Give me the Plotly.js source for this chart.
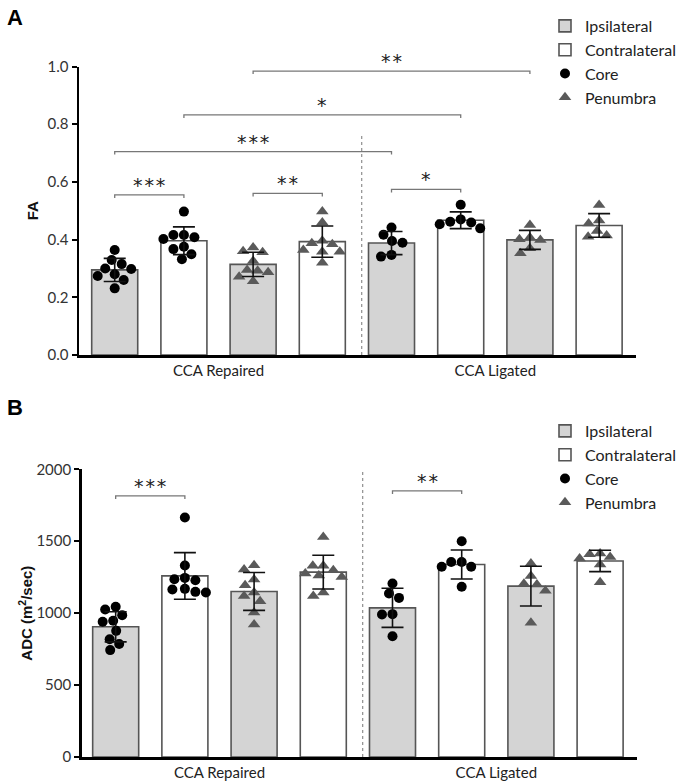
<!DOCTYPE html>
<html><head><meta charset="utf-8">
<script src="https://cdn.plot.ly/plotly-3.0.1.min.js"></script>
<style>body{margin:0;background:#fff}#chart{width:683px;height:782px}</style>
</head><body><div id="chart"></div>
<script>
// ---------- data ----------
const groupLabels = ['CCA Repaired', 'CCA Ligated'];
const sideNames = ['Ipsilateral', 'Contralateral'];
const regionNames = ['Core', 'Penumbra'];
// bar order: Repaired Core Ipsi, Repaired Core Contra, Repaired Pen Ipsi, Repaired Pen Contra, Ligated Core Ipsi, ...
const faMean = [0.295, 0.396, 0.314, 0.393, 0.388, 0.467, 0.399, 0.449];
const faSD   = [0.040, 0.048, 0.042, 0.054, 0.040, 0.029, 0.033, 0.041];
const faPoints = [
  [0.364,0.329,0.315,0.298,0.300,0.274,0.280,0.260,0.231],
  [0.497,0.416,0.408,0.402,0.416,0.367,0.375,0.332,0.349],
  [0.373,0.356,0.360,0.326,0.295,0.287,0.292,0.271,0.256],
  [0.497,0.459,0.387,0.384,0.396,0.358,0.358,0.364,0.320],
  [0.442,0.417,0.395,0.389,0.341,0.347],
  [0.521,0.470,0.459,0.439,0.453,0.462],
  [0.451,0.401,0.399,0.407,0.370,0.353],
  [0.520,0.466,0.456,0.430,0.410,0.414]
];
const adcMean = [905, 1259, 1151, 1285, 1037, 1338, 1188, 1363];
const adcSD   = [105, 162, 132, 117, 136, 101, 138, 74];
const adcPoints = [
  [1044,1025,986,940,947,877,819,785,743],
  [1665,1331,1229,1245,1236,1164,1144,1148,1169],
  [1333,1303,1234,1194,1120,1144,1083,1005,921],
  [1530,1329,1329,1299,1275,1262,1252,1120,1144],
  [1206,1137,1106,991,993,840],
  [1500,1356,1322,1322,1356,1183],
  [1345,1259,1199,1204,1155,933],
  [1410,1380,1338,1391,1415,1215]
];
// significance brackets: [from bar, to bar, height, label]
const faSig = [[0,1,0.555,'***'],[2,3,0.56,'**'],[0,4,0.705,'***'],[4,5,0.574,'*'],[1,5,0.832,'*'],[2,6,0.984,'**']];
const adcSig = [[0,1,1815,'***'],[4,5,1850,'**']];

// ---------- layout geometry ----------
const W = 683, H = 782;
const panels = [
  {key:'', letter:'A', mean:faMean, sd:faSD, pts:faPoints, sig:faSig, xpx:[79,636], ypx:[66.5,355],
   xr:[-0.516,7.533], yr:[0,1], dtick:0.2, fmt:'.1f', title:'FA', standoff:6, sepTop:0.763, legend:'legend',
   letterY:18},
  {key:'2', letter:'B', mean:adcMean, sd:adcSD, pts:adcPoints, sig:adcSig, xpx:[81.7,637], ypx:[469.3,757],
   xr:[-0.491,7.533], yr:[0,2000], dtick:500, fmt:'d', title:'ADC (m<sup>2</sup>/sec)', standoff:0, sepTop:2007, legend:'legend2',
   letterY:407}
];
const FONT = 'Lato, "Open Sans", sans-serif';
const STARFONT = '"DejaVu Sans", sans-serif';
const barIdx = [0,1,2,3,4,5,6,7];

function swarm(vals, pyu, pxu, D) {
  const order = vals.map((v,i)=>i).sort((a,b)=>vals[b]-vals[a]);
  const placed = []; const off = new Array(vals.length).fill(0);
  for (const i of order) {
    const y = vals[i]*pyu;
    for (let k=0;k<400;k++) {
      const c = (k%2===0?1:-1)*Math.ceil(k/2)*0.5;
      let ok = true;
      for (const p of placed) { const dx=c-p.x, dy=y-p.y; if (dx*dx+dy*dy < D*D) { ok=false; break; } }
      if (ok) { placed.push({x:c,y:y}); off[i]=c/pxu; break; }
    }
  }
  return off;
}

const traces = [];
const layout = {
  width: W, height: H, margin:{l:0,r:0,t:0,b:0}, paper_bgcolor:'#fff', plot_bgcolor:'rgba(0,0,0,0)',
  barmode:'overlay', showlegend:true, font:{family:FONT, size:15, color:'#222'},
  shapes:[], annotations:[]
};

panels.forEach((P, pi) => {
  const xa = 'x'+P.key, ya = 'y'+P.key;
  const pxu = (P.xpx[1]-P.xpx[0])/(P.xr[1]-P.xr[0]);
  const pyu = (P.ypx[1]-P.ypx[0])/(P.yr[1]-P.yr[0]);
  // bars
  [0,1].forEach(s => {
    const ids = barIdx.filter(i => i%2===s);
    traces.push({type:'bar', name:sideNames[s], legend:P.legend, xaxis:xa, yaxis:ya,
      x: ids, y: ids.map(i=>P.mean[i]), width:0.665,
      marker:{color: s===0 ? '#d4d4d4' : '#ffffff', line:{color:'#555', width:1.6}}, hoverinfo:'skip'});
  });
  // points
  [0,1].forEach(r => {
    const ids = barIdx.filter(i => Math.floor(i/2)%2===r);
    const xs=[], ys=[];
    ids.forEach(i => { const off = swarm(P.pts[i], pyu, pxu, 10.5); P.pts[i].forEach((v,j)=>{ xs.push(i+off[j]); ys.push(v); }); });
    traces.push({type:'scatter', mode:'markers', name:regionNames[r], legend:P.legend, xaxis:xa, yaxis:ya,
      x:xs, y:ys, cliponaxis:false,
      marker: r===0 ? {symbol:'circle', size:10, color:'#000'} : {symbol:'triangle-up', size:11, color:'#5a5a5a'},
      hoverinfo:'skip'});
  });
  // error bars on top
  traces.push({type:'scatter', mode:'markers', showlegend:false, xaxis:xa, yaxis:ya, x:barIdx, y:P.mean,
    marker:{size:1, color:'rgba(0,0,0,0)'}, cliponaxis:false,
    error_y:{type:'data', array:P.sd, visible:true, color:'#111', thickness:1.6, width:11}, hoverinfo:'skip'});

  layout['xaxis'+P.key] = {domain:[P.xpx[0]/W, P.xpx[1]/W], range:P.xr, anchor:ya,
    showgrid:false, zeroline:false, showline:true, linecolor:'#000', linewidth:2.5, ticks:'',
    tickmode:'array', tickvals:[1.5,5.5], ticktext:groupLabels, tickfont:{family:FONT,size:15,color:'#222'}, fixedrange:true};
  layout['yaxis'+P.key] = {domain:[1-P.ypx[1]/H, 1-P.ypx[0]/H], range:P.yr, anchor:xa,
    showgrid:false, zeroline:false, showline:true, linecolor:'#000', linewidth:2.5,
    ticks:'outside', ticklen:5, tickwidth:2, tickcolor:'#000', dtick:P.dtick, tickformat:P.fmt,
    tickfont:{family:FONT,size:15,color:'#333'},
    title:{text:P.title, font:{family:'"Liberation Sans", Arial, sans-serif', size:15, color:'#111', weight:'bold'}, standoff:P.standoff}, fixedrange:true};
  // separator
  layout.shapes.push({type:'line', xref:xa, yref:ya, x0:3.57, x1:3.57, y0:0, y1:P.sepTop,
    line:{color:'#777', width:1, dash:'dot'}, layer:'below'});
  // brackets
  const tk = 3/pyu;
  P.sig.forEach(s => {
    const [a,b,h,lab] = s;
    layout.shapes.push({type:'path', xref:xa, yref:ya,
      path:`M${a},${h-tk} L${a},${h} L${b},${h} L${b},${h-tk}`, line:{color:'#777', width:1.3}});
    layout.annotations.push({xref:xa, yref:ya, x:(a+b)/2, y:h, text:lab.split('').join('\u200A'), showarrow:false,
      yanchor:'bottom', yshift:-3, font:{family:STARFONT, size:19, color:'#222'}});
  });
  // panel letter
  layout.annotations.push({xref:'paper', yref:'paper', x:15/W, y:1-P.letterY/H, text:'<b>'+P.letter+'</b>',
    showarrow:false, xanchor:'center', yanchor:'middle', font:{family:'"Liberation Sans", Arial, sans-serif', size:22, color:'#000'}});
});

layout.legend = {x:545/W, y:1-9/H, xanchor:'left', yanchor:'top', bgcolor:'rgba(0,0,0,0)',
  font:{family:FONT,size:16,color:'#222'}, traceorder:'normal', itemclick:false};
layout.legend2 = {x:545/W, y:1-414/H, xanchor:'left', yanchor:'top', bgcolor:'rgba(0,0,0,0)',
  font:{family:FONT,size:16,color:'#222'}, traceorder:'normal', itemclick:false};

Plotly.newPlot('chart', traces, layout, {displayModeBar:false, staticPlot:true});
</script></body></html>
